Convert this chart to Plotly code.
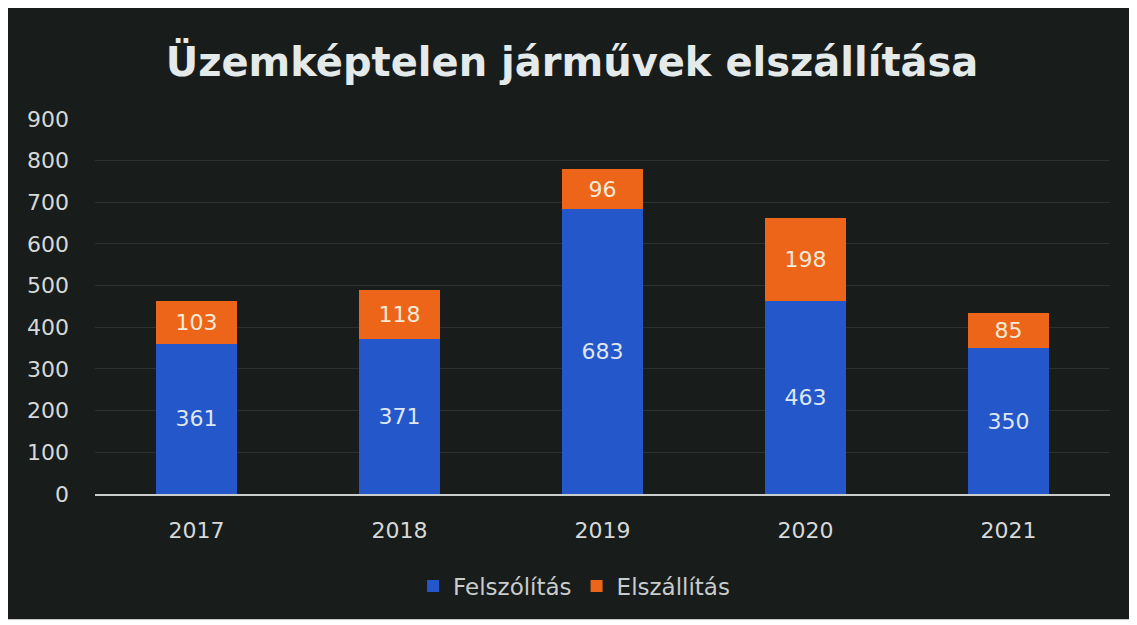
import plotly.graph_objects as go

years = ["2017", "2018", "2019", "2020", "2021"]
felszolitas = [361, 371, 683, 463, 350]
elszallitas = [103, 118, 96, 198, 85]
y_ticks = [0, 100, 200, 300, 400, 500, 600, 700, 800, 900]

BLUE = "#2457c9"
ORANGE = "#ec6519"
BG = "#181c1b"
FONT = "DejaVu Sans"

fig = go.Figure()
fig.add_trace(go.Bar(
    x=years, y=felszolitas, name="Felszólítás",
    marker=dict(color=BLUE, line=dict(width=0)),
    text=felszolitas, textposition="inside", insidetextanchor="middle",
    textfont=dict(color="#dfe6f0", size=22, family=FONT),
))
fig.add_trace(go.Bar(
    x=years, y=elszallitas, name="Elszállítás",
    marker=dict(color=ORANGE, line=dict(width=0)),
    text=elszallitas, textposition="inside", insidetextanchor="middle",
    textfont=dict(color="#f6ead8", size=22, family=FONT),
))

fig.update_layout(
    width=1129, height=617,
    barmode="stack", bargap=0.6,
    paper_bgcolor="white", plot_bgcolor="rgba(0,0,0,0)",
    margin=dict(l=87, r=27, t=110, b=131),
    title=dict(
        text="<b>Üzemképtelen járművek elszállítása</b>",
        x=0.4996, xanchor="center", y=0.912, yanchor="middle",
        font=dict(family=FONT, size=40, color="#e4eaea"),
    ),
    font=dict(family=FONT, color="#d6d9d8"),
    showlegend=True,
    legend=dict(
        orientation="h", x=0.472, xanchor="center", y=-0.245, yanchor="middle",
        font=dict(size=23, color="#c8cccb"), bgcolor="rgba(0,0,0,0)",
        traceorder="normal",
    ),
    uniformtext=dict(mode="show", minsize=10),
    shapes=[dict(
        type="rect", xref="paper", yref="paper", layer="below",
        x0=-0.089, x1=1.02, y0=-0.333, y1=1.3,
        fillcolor=BG, line=dict(width=0),
    )],
)
fig.update_yaxes(
    range=[0, 902], tickvals=y_ticks, showgrid=True, gridcolor="#2c312f",
    gridwidth=1, zeroline=False, showline=False,
    tickfont=dict(size=22, color="#d6d9d8", family=FONT),
    ticklabelstandoff=25,
)
fig.update_xaxes(
    showline=True, linecolor="#c9cdcc", linewidth=2,
    tickfont=dict(size=22, color="#d6d9d8", family=FONT),
    ticklabelstandoff=16, showgrid=False,
)

fig.write_html("out.html")
